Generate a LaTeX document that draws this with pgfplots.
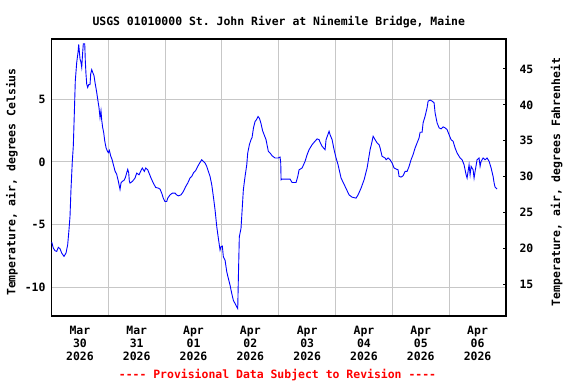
\documentclass[border=0pt]{standalone}
\usepackage{fontspec}
\setmonofont{DejaVu Sans Mono}
\usepackage{pgfplots}
\pgfplotsset{compat=1.18}
\newcommand{\myf}{\fontsize{11.5}{13}\selectfont\ttfamily\bfseries}
\begin{document}
\begin{tikzpicture}[font=\myf]
\path[use as bounding box] (-51.5bp,-68bp) rectangle (524.5bp,316bp);
\begin{axis}[
  at={(0,0)}, anchor=south west,
  scale only axis, width=454.5bp, height=277bp,
  xmin=0, xmax=8, ymin=-12.27, ymax=9.80,
  xtick={0.5,1.5,2.5,3.5,4.5,5.5,6.5,7.5},
  xticklabels={{Mar\\30\\2026},{Mar\\31\\2026},{Apr\\01\\2026},{Apr\\02\\2026},{Apr\\03\\2026},{Apr\\04\\2026},{Apr\\05\\2026},{Apr\\06\\2026}},
  xticklabel style={align=center, font=\myf, yshift=-6.5bp},
  minor xtick={1,2,3,4,5,6,7},
  xminorgrids,
  major tick length=0pt, minor tick length=0pt,
  ytick={-10,-5,0,5},
  yticklabels={-10,-5,0,5},
  yticklabel style={font=\myf, xshift=-2.5bp},
  ymajorgrids,
  grid style={black!22, line width=1bp},
  minor grid style={black!22, line width=1bp},
  axis line style={line width=1.3bp},
]
\addplot[blue, line width=0.9bp] coordinates {
(0.004,-6.38) (0.032,-6.86) (0.062,-7.07) (0.092,-7.12) (0.120,-6.80) (0.150,-6.91)
(0.180,-7.26) (0.220,-7.52) (0.255,-7.26) (0.285,-6.59) (0.308,-5.39) (0.326,-4.32)
(0.343,-2.19) (0.366,0.02) (0.384,1.28) (0.401,3.76) (0.419,6.48) (0.444,7.94)
(0.467,8.74) (0.479,9.36) (0.502,8.21) (0.519,7.94) (0.532,7.54) (0.549,8.74)
(0.560,9.41) (0.585,9.41) (0.595,8.08) (0.607,7.01) (0.620,6.21) (0.637,5.94)
(0.655,6.16) (0.678,6.16) (0.690,7.01) (0.708,7.36) (0.725,7.14) (0.748,6.88)
(0.766,6.34) (0.796,5.54) (0.813,5.01) (0.836,4.34) (0.854,3.54) (0.871,4.08)
(0.884,3.33) (0.901,2.74) (0.919,2.34) (0.937,1.68) (0.960,1.14) (0.982,0.88)
(1.000,0.74) (1.018,0.93) (1.042,0.48) (1.065,0.21) (1.088,-0.19) (1.118,-0.72)
(1.148,-0.99) (1.176,-1.52) (1.206,-2.19) (1.224,-1.66) (1.254,-1.52) (1.276,-1.47)
(1.299,-1.26) (1.324,-0.86) (1.342,-0.59) (1.359,-0.86) (1.370,-1.52) (1.382,-1.68)
(1.423,-1.55) (1.470,-1.28) (1.500,-0.88) (1.541,-1.02) (1.576,-0.67) (1.599,-0.48)
(1.634,-0.75) (1.658,-0.48) (1.694,-0.62) (1.717,-0.88) (1.752,-1.28) (1.792,-1.68)
(1.835,-2.03) (1.880,-2.08) (1.910,-2.16) (1.940,-2.48) (1.968,-2.88) (1.998,-3.15)
(2.028,-3.15) (2.046,-2.88) (2.086,-2.62) (2.127,-2.48) (2.174,-2.48) (2.204,-2.62)
(2.232,-2.70) (2.280,-2.62) (2.320,-2.35) (2.363,-1.95) (2.398,-1.68) (2.438,-1.28)
(2.468,-1.15) (2.497,-0.88) (2.539,-0.67) (2.574,-0.35) (2.615,-0.03) (2.644,0.18)
(2.673,0.05) (2.703,-0.08) (2.732,-0.35) (2.761,-0.75) (2.791,-1.15) (2.821,-1.82)
(2.849,-2.75) (2.879,-3.82) (2.909,-5.15) (2.937,-6.08) (2.967,-7.02) (2.984,-6.75)
(3.007,-6.70) (3.025,-7.55) (3.055,-7.82) (3.085,-8.75) (3.113,-9.28) (3.143,-9.82)
(3.173,-10.48) (3.201,-11.02) (3.231,-11.28) (3.261,-11.55) (3.278,-11.68) (3.289,-9.28)
(3.306,-5.95) (3.336,-5.28) (3.359,-3.55) (3.377,-2.22) (3.407,-1.15) (3.437,-0.22)
(3.454,0.72) (3.483,1.38) (3.512,1.78) (3.530,1.94) (3.556,2.74) (3.583,3.22)
(3.609,3.38) (3.636,3.62) (3.662,3.46) (3.688,3.06) (3.715,2.50) (3.776,1.78)
(3.817,0.85) (3.847,0.72) (3.882,0.50) (3.935,0.32) (3.988,0.32) (4.023,0.40)
(4.035,-0.08) (4.041,-1.42) (4.058,-1.36) (4.199,-1.36) (4.234,-1.63) (4.305,-1.63)
(4.335,-1.15) (4.358,-0.62) (4.411,-0.48) (4.463,0.05) (4.499,0.58) (4.534,0.98)
(4.587,1.38) (4.622,1.57) (4.675,1.84) (4.710,1.78) (4.728,1.57) (4.763,1.25)
(4.815,0.98) (4.833,1.78) (4.886,2.45) (4.903,2.18) (4.939,1.78) (4.974,0.98)
(5.009,0.32) (5.044,-0.22) (5.097,-1.28) (5.168,-1.95) (5.238,-2.62) (5.291,-2.80)
(5.361,-2.88) (5.396,-2.62) (5.449,-2.08) (5.502,-1.42) (5.555,-0.48) (5.608,0.98)
(5.643,1.65) (5.661,2.05) (5.696,1.78) (5.731,1.52) (5.766,1.38) (5.784,1.12)
(5.819,0.45) (5.872,0.32) (5.890,0.18) (5.925,0.32) (5.960,0.18) (5.995,-0.08)
(6.030,-0.48) (6.065,-0.56) (6.100,-0.62) (6.118,-1.15) (6.153,-1.20) (6.188,-1.10)
(6.224,-0.75) (6.259,-0.75) (6.294,-0.35) (6.329,0.18) (6.364,0.58) (6.400,1.12)
(6.435,1.52) (6.470,1.92) (6.488,2.37) (6.523,2.37) (6.541,3.12) (6.576,3.65)
(6.611,4.32) (6.629,4.85) (6.664,4.93) (6.699,4.85) (6.734,4.72) (6.752,3.92)
(6.787,3.12) (6.822,2.72) (6.857,2.64) (6.893,2.80) (6.928,2.72) (6.963,2.58)
(6.998,2.18) (7.033,1.78) (7.069,1.65) (7.104,1.12) (7.139,0.72) (7.192,0.32)
(7.227,0.18) (7.262,-0.22) (7.298,-1.02) (7.315,-1.28) (7.350,-0.22) (7.368,-1.02)
(7.386,-0.35) (7.421,-0.62) (7.438,-1.28) (7.456,-0.75) (7.491,0.18) (7.526,0.32)
(7.544,-0.35) (7.562,0.05) (7.597,0.32) (7.632,0.18) (7.667,0.32) (7.703,0.05)
(7.738,-0.48) (7.773,-1.15) (7.791,-1.68) (7.808,-2.00) (7.843,-2.16)
};
\end{axis}
\begin{axis}[
  at={(0,0)}, anchor=south west,
  scale only axis, width=454.5bp, height=277bp,
  xmin=0, xmax=8, ymin=10.58, ymax=49.18,
  axis y line*=right, axis x line=none,
  ytick={15,20,25,30,35,40,45},
  yticklabels={15,20,25,30,35,40,45},
  major tick length=3.5bp, tick align=inside,
  tick style={line width=1bp, black},
  yticklabel style={font=\myf, xshift=10bp},
  axis line style={line width=1.3bp},
]
\addplot[draw=none] coordinates {(0,20) (8,20)};
\end{axis}
\node[anchor=base] at (227.25bp,290bp) {USGS 01010000 St. John River at Ninemile Bridge, Maine};
\node[rotate=90] at (-39.5bp,134bp) {Temperature, air, degrees Celsius};
\node[rotate=90] at (505.2bp,134bp) {Temperature, air, degrees Fahrenheit};
\node[anchor=base, text={rgb,255:red,255;green,0;blue,0}] at (226bp,-62.5bp) {---- Provisional Data Subject to Revision ----};
\end{tikzpicture}
\end{document}
